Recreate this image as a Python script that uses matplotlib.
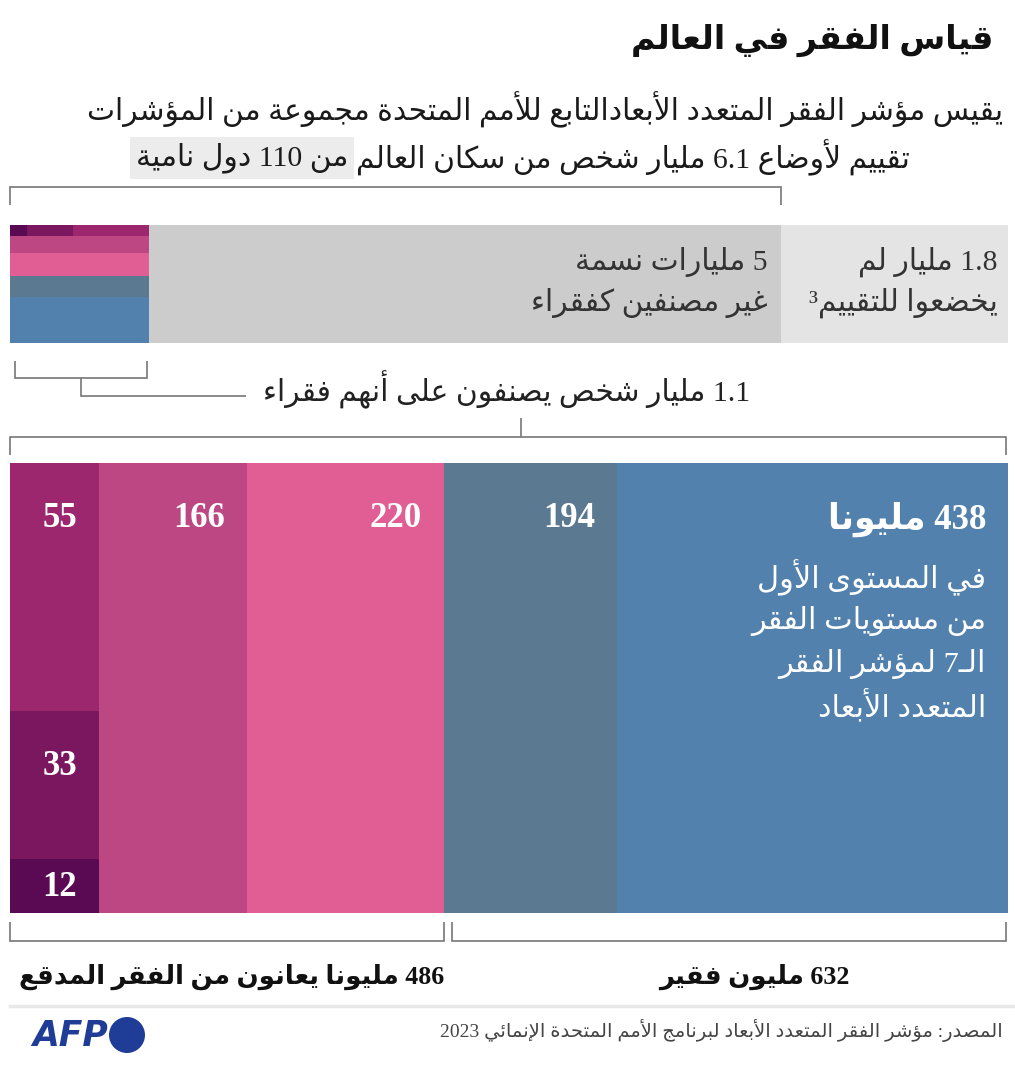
import re
import matplotlib
matplotlib.use('Agg')
import matplotlib.pyplot as plt
from matplotlib.patches import Circle

# ---------------- data ----------------
assessed_bn = 6.1          # people assessed (billions)
not_assessed_bn = 1.8      # people not assessed (billions)
poor_bn = 1.1              # poor (billions)
nonpoor_bn = 5.0           # not poor (billions)

level_values = [438, 194, 220, 166]          # millions, right -> left
level_colors = ['#5381ad', '#5b7990', '#e05e93', '#bc4782']
severe_values = [55, 33, 12]                 # millions, top -> bottom in stacked column
severe_colors = ['#9c276e', '#7b175f', '#5a0a52']
moderate_total = 632
extreme_total = 486

# ---------------- texts ----------------
title = "قياس الفقر في العالم"
sub1 = "يقيس مؤشر الفقر المتعدد الأبعادالتابع للأمم المتحدة مجموعة من المؤشرات"
sub2a = "تقييم لأوضاع 6.1 مليار شخص من سكان العالم"
sub2b = "من 110 دول نامية"
nonpoor_lines = ["5 مليارات نسمة", "غير مصنفين كفقراء"]
unassessed_lines = ["1.8 مليار لم", "يخضعوا للتقييم³"]
poor_label = "1.1 مليار شخص يصنفون على أنهم فقراء"
level1_title = "438 مليونا"
level1_lines = ["في المستوى الأول", "من مستويات الفقر", "الـ7 لمؤشر الفقر", "المتعدد الأبعاد"]
extreme_label = "486 مليونا يعانون من الفقر المدقع"
moderate_label = "632 مليون فقير"
source = "المصدر: مؤشر الفقر المتعدد الأبعاد لبرنامج الأمم المتحدة الإنمائي 2023"

# ---------------- minimal Arabic shaping + bidi ----------------
_TABLE = [('\u0621', 0xFE80, 1), ('\u0622', 0xFE81, 2), ('\u0623', 0xFE83, 2),
          ('\u0624', 0xFE85, 2), ('\u0625', 0xFE87, 2), ('\u0626', 0xFE89, 4),
          ('\u0627', 0xFE8D, 2), ('\u0628', 0xFE8F, 4), ('\u0629', 0xFE93, 2),
          ('\u062A', 0xFE95, 4), ('\u062B', 0xFE99, 4), ('\u062C', 0xFE9D, 4),
          ('\u062D', 0xFEA1, 4), ('\u062E', 0xFEA5, 4), ('\u062F', 0xFEA9, 2),
          ('\u0630', 0xFEAB, 2), ('\u0631', 0xFEAD, 2), ('\u0632', 0xFEAF, 2),
          ('\u0633', 0xFEB1, 4), ('\u0634', 0xFEB5, 4), ('\u0635', 0xFEB9, 4),
          ('\u0636', 0xFEBD, 4), ('\u0637', 0xFEC1, 4), ('\u0638', 0xFEC5, 4),
          ('\u0639', 0xFEC9, 4), ('\u063A', 0xFECD, 4), ('\u0641', 0xFED1, 4),
          ('\u0642', 0xFED5, 4), ('\u0643', 0xFED9, 4), ('\u0644', 0xFEDD, 4),
          ('\u0645', 0xFEE1, 4), ('\u0646', 0xFEE5, 4), ('\u0647', 0xFEE9, 4),
          ('\u0648', 0xFEED, 2), ('\u0649', 0xFEEF, 2), ('\u064A', 0xFEF1, 4)]
FORMS = {}
for ch, base, n in _TABLE:
    f = [chr(base + i) for i in range(n)] + [None] * (4 - n)
    FORMS[ch] = tuple(f)   # isolated, final, initial, medial
LAMALEF = {'\u0622': ('\uFEF5', '\uFEF6'), '\u0623': ('\uFEF7', '\uFEF8'),
           '\u0625': ('\uFEF9', '\uFEFA'), '\u0627': ('\uFEFB', '\uFEFC')}
TATWEEL = '\u0640'


def _joins_left(ch):
    return ch == TATWEEL or (ch in FORMS and FORMS[ch][2] is not None)


def _joins_right(ch):
    return ch == TATWEEL or (ch in FORMS and FORMS[ch][1] is not None)


def shape(s):
    out = []
    prev = None
    i = 0
    n = len(s)
    while i < n:
        ch = s[i]
        if ch in FORMS:
            nxt = s[i + 1] if i + 1 < n else ''
            jp = prev is not None and _joins_left(prev) and _joins_right(ch)
            if ch == '\u0644' and nxt in LAMALEF:
                lig = LAMALEF[nxt]
                out.append(lig[1] if jp else lig[0])
                prev = nxt
                i += 2
                continue
            jn = _joins_left(ch) and nxt != '' and _joins_right(nxt)
            iso, fin, ini, med = FORMS[ch]
            if jp and jn:
                out.append(med)
            elif jp:
                out.append(fin)
            elif jn:
                out.append(ini)
            else:
                out.append(iso)
            prev = ch
        else:
            out.append(ch)
            prev = ch if ch == TATWEEL else None
        i += 1
    return ''.join(out)


def ar(s):
    shaped = shape(s)
    toks = re.findall(r'[0-9A-Za-z][0-9A-Za-z.,]*[0-9A-Za-z]|[0-9A-Za-z]|[^0-9A-Za-z]+', shaped)
    res = []
    for t in reversed(toks):
        res.append(t if re.match(r'[0-9A-Za-z]', t) else t[::-1])
    return ''.join(res)


# ---------------- figure ----------------
W, H = 1015, 1067
fig = plt.figure(figsize=(W / 100, H / 100), dpi=100)
fig.patch.set_facecolor('white')

FAM = ['Liberation Serif', 'DejaVu Sans']


def add_ax(x0, y0, x1, y1, z=1):
    ax = fig.add_axes([x0 / W, 1 - y1 / H, (x1 - x0) / W, (y1 - y0) / H], zorder=z)
    ax.set_axis_off()
    return ax


ov = add_ax(0, 0, W, H, z=5)
ov.set_xlim(0, W)
ov.set_ylim(H, 0)


def px(ax, xd):
    return ax.transData.transform((xd, 0))[0]


def py(ax, yd):
    return H - ax.transData.transform((0, yd))[1]


LINE = dict(color='#777777', lw=1.2, solid_capstyle='butt', solid_joinstyle='miter')

# ---- top bar ----
ax_top = add_ax(10, 225, 1008, 343)
total_bn = assessed_bn + not_assessed_bn
ax_top.set_xlim(0, total_bn)
ax_top.set_ylim(1, 0)
ax_top.bar(poor_bn, 1, width=nonpoor_bn, bottom=0, align='edge', color='#cccccc', lw=0)
ax_top.bar(assessed_bn, 1, width=not_assessed_bn, bottom=0, align='edge', color='#e4e4e4', lw=0)

poor_total = sum(level_values) + sum(severe_values)
sev_total = sum(severe_values)
yb = 0.0
h = sev_total / poor_total
xb = 0.0
for v, c in zip(reversed(severe_values), reversed(severe_colors)):
    w = v / sev_total * poor_bn
    ax_top.bar(xb, h, width=w, bottom=yb, align='edge', color=c, lw=0)
    xb += w
yb += h
for v, c in zip(reversed(level_values), reversed(level_colors)):
    h = v / poor_total
    ax_top.bar(0, h, width=poor_bn, bottom=yb, align='edge', color=c, lw=0)
    yb += h

# ---- big bar ----
ax_big = add_ax(10, 463, 1008, 913)
ax_big.set_xlim(poor_total, 0)
ax_big.set_ylim(1, 0)
xb = 0
level_starts = []
for v, c in zip(level_values, level_colors):
    ax_big.bar(xb, 1, width=v, bottom=0, align='edge', color=c, lw=0)
    level_starts.append(xb)
    xb += v
sev_x = xb
yb = 0.0
sev_bounds = []
for v, c in zip(severe_values, severe_colors):
    h = v / sev_total
    ax_big.bar(sev_x, h, width=sev_total, bottom=yb, align='edge', color=c, lw=0)
    sev_bounds.append((yb, yb + h))
    yb += h

# ---------------- brackets ----------------
# over assessed population
bx0, bx1 = px(ax_top, 0), px(ax_top, assessed_bn)
ov.plot([bx0, bx0, bx1, bx1], [205, 187, 187, 205], **LINE)
# under poor piece
bx0, bx1 = px(ax_top, 0) + 5, px(ax_top, poor_bn) - 2
ov.plot([bx0, bx0, bx1, bx1], [361, 378, 378, 361], **LINE)
mid = (bx0 + bx1) / 2
ov.plot([mid, mid, 246], [378, 396, 396], **LINE)
# over big bar
bx0, bx1 = px(ax_big, poor_total), px(ax_big, 0) - 2
ov.plot([bx0, bx0, bx1, bx1], [455, 437, 437, 455], **LINE)
bmid = px(ax_big, poor_total / 2) + 12
ov.plot([bmid, bmid], [437, 418], **LINE)
# under big bar
split = px(ax_big, moderate_total)
lx0 = px(ax_big, poor_total)
rx1 = px(ax_big, 0) - 2
ov.plot([lx0, lx0, split, split], [922, 941, 941, 922], **LINE)
ov.plot([split + 8, split + 8, rx1, rx1], [922, 941, 941, 922], **LINE)

# separator
ov.plot([10, W], [1006, 1006], color='#e8e8e8', lw=2.5)

# ---------------- texts ----------------
def T(x, y, s, size=20, ha='right', color='#222222', weight='normal', fam=FAM, **kw):
    return ov.text(x, y, ar(s), fontsize=size, ha=ha, va='center', color=color,
                   fontweight=weight, family=fam, **kw)


fig.canvas.draw()
R = fig.canvas.get_renderer()


def width(t):
    return t.get_window_extent(R).width


def fit(t, target):
    t.set_fontsize(t.get_fontsize() * target / width(t))
    return t.get_fontsize()


t_title = T(993, 40, title, weight='bold', color='#111111')
fit(t_title, 361)

t_s1 = T(1003, 110, sub1, color='#1a1a1a')
s_sub = fit(t_s1, 918)
t_s2a = T(910, 158, sub2a, size=s_sub, color='#1a1a1a')
left_a = t_s2a.get_window_extent(R).x0
t_s2b = T(left_a - 8, 158, sub2b, size=s_sub, color='#1a1a1a',
          bbox=dict(facecolor='#ececec', edgecolor='none', pad=4))

t_poor = T(750, 390, poor_label, color='#222222')
s_body = fit(t_poor, 488)
for i, line in enumerate(nonpoor_lines):
    T(768, 262 + 41 * i, line, size=s_body, color='#333333')
for i, line in enumerate(unassessed_lines):
    T(998, 262 + 41 * i, line, size=s_body, color='#333333')

# bar value labels
tmp = T(0, -100, "166", weight='bold', color='white')
s_num = fit(tmp, 52)
tmp.remove()
top_px = py(ax_big, 0)
for i, (v, x0) in enumerate(zip(level_values, level_starts)):
    label = level1_title if i == 0 else str(v)
    T(px(ax_big, x0) - 22, top_px + 56, label, size=s_num, weight='bold', color='white')
for v, (b0, b1) in zip(severe_values, sev_bounds):
    y0p, y1p = py(ax_big, b0), py(ax_big, b1)
    yl = min(y0p + 56, (y0p + y1p) / 2 + 2)
    T(px(ax_big, sev_x) - 22, yl, str(v), size=s_num, weight='bold', color='white')

tmp = T(0, -100, level1_lines[1], color='white')
s_white = fit(tmp, 235)
tmp.remove()
for i, line in enumerate(level1_lines):
    T(px(ax_big, 0) - 22, 578 + 43 * i, line, size=s_white, color='white')

# bottom labels
t_ext = T(px(ax_big, moderate_total), 977, extreme_label, weight='bold', color='#111111')
s_bot = fit(t_ext, 425)
T(850, 977, moderate_label, size=s_bot, weight='bold', color='#111111')

# source
t_src = T(1003, 1030, source, color='#444444')
fit(t_src, 560)

# AFP logo
t_afp = ov.text(32, 1036, "AFP", fontsize=20, ha='left', va='center', color='#1f3c97',
                fontweight='bold', fontstyle='italic', family='DejaVu Sans')
fit(t_afp, 76)
ov.add_patch(Circle((127, 1035), 18, color='#1f3c97', lw=0))

fig.savefig('out.png', dpi=100, facecolor='white')
